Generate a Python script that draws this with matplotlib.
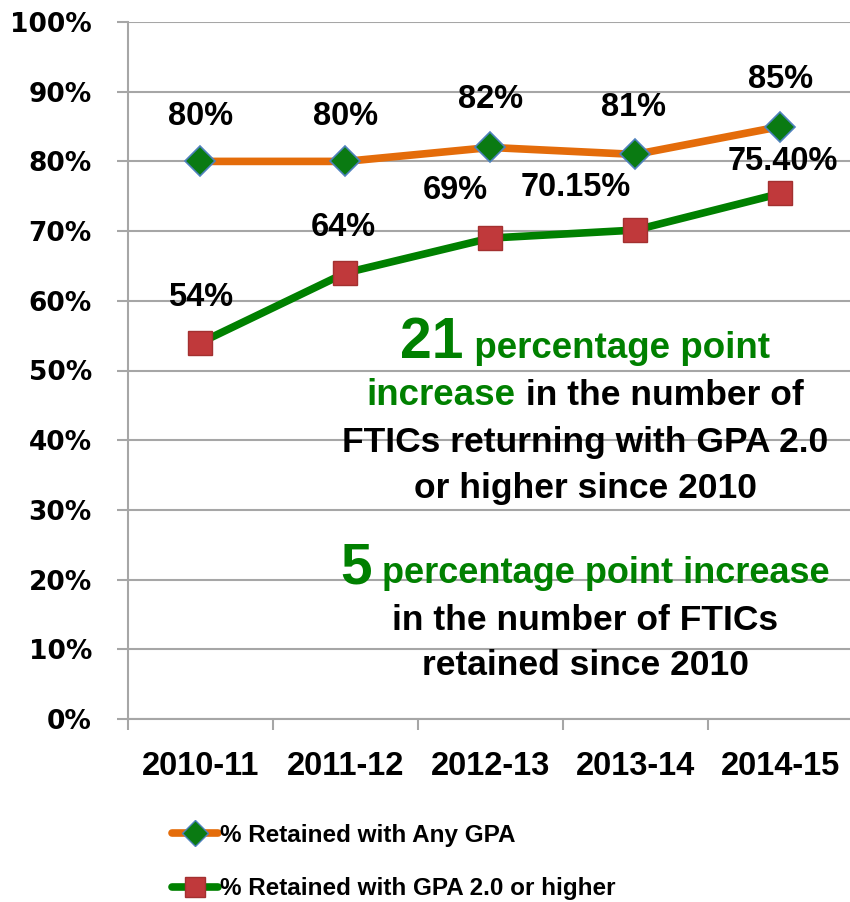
import matplotlib
matplotlib.use("Agg")
import matplotlib.pyplot as plt
from matplotlib.lines import Line2D

# ── Données ────────────────────────────────────────────────
annees = ["2010-11", "2011-12", "2012-13", "2013-14", "2014-15"]
retenus_any_gpa = [80, 80, 82, 81, 85]
retenus_gpa_2 = [54, 64, 69, 70.15, 75.40]
labels_any_gpa = ["80%", "80%", "82%", "81%", "85%"]
labels_gpa_2 = ["54%", "64%", "69%", "70.15%", "75.40%"]
serie_noms = ["% Retained with Any GPA", "% Retained with GPA 2.0 or higher"]

# décalages des étiquettes (pixels)
off_any = [(0, 45), (0, 45), (0, 48), (-2, 47), (0, 47)]
off_gpa = [(0, 45), (-2, 45), (-35, 48), (-60, 43), (2, 32)]

ORANGE = "#E46C0A"
VERT = "#008000"
ROUGE = "#C0393B"
BLEU = "#4F81BD"
GRIS = "#A6A6A6"

fig = plt.figure(figsize=(8.5, 9.02), dpi=100)
ax = fig.add_axes([128 / 850, 1 - 719 / 902, 1 - 128 / 850, (719 - 22) / 902])

x = list(range(len(annees)))
ax.plot(x, retenus_any_gpa, color=ORANGE, lw=5.5, marker="D", ms=15,
        mfc="#0A7A12", mec=BLEU, mew=1.2, zorder=3, solid_capstyle="round")
ax.plot(x, retenus_gpa_2, color=VERT, lw=5.5, marker="s", ms=17,
        mfc=ROUGE, mec="#A33030", mew=1, zorder=3, solid_capstyle="round")

lab_font = dict(family="Liberation Sans", fontweight="bold", fontsize=23.5,
                ha="center", va="center", color="black")
for i in x:
    ax.annotate(labels_any_gpa[i], (i, retenus_any_gpa[i]), xytext=off_any[i],
                textcoords="offset pixels", **lab_font)
    ax.annotate(labels_gpa_2[i], (i, retenus_gpa_2[i]), xytext=off_gpa[i],
                textcoords="offset pixels", **lab_font)

ax.set_xlim(-0.5, 4.48)
ax.set_ylim(0, 100)
ax.set_yticks(range(0, 101, 10))
ax.set_yticklabels([f"{v}%" for v in range(0, 101, 10)],
                   fontsize=19, fontweight="bold", family="DejaVu Sans")
ax.set_xticks(x)
ax.set_xticklabels(annees, fontsize=23.5, fontweight="bold", family="Liberation Sans")
ax.set_xticks([-0.5, 0.5, 1.5, 2.5, 3.5], minor=True)
ax.tick_params(axis="x", which="major", length=0, pad=23)
ax.tick_params(axis="x", which="minor", length=8, color=GRIS, width=1.5)
ax.tick_params(axis="y", length=8, color=GRIS, width=1.5, pad=18)
ax.grid(axis="y", color=GRIS, lw=1.5)
ax.set_axisbelow(True)
for s in ["top", "right"]:
    ax.spines[s].set_visible(False)
ax.spines["left"].set_color(GRIS)
ax.spines["left"].set_linewidth(1.5)
ax.spines["bottom"].set_color(GRIS)
ax.spines["bottom"].set_linewidth(1.5)

# ── Texte explicatif (morceaux multicolores) ────────────────
renderer = fig.canvas.get_renderer()


def ligne(morceaux, cx, cy):
    """morceaux : liste de (texte, couleur, taille). Centre la ligne en (cx, cy) pixels."""
    objs = []
    for txt, col, taille in morceaux:
        t = fig.text(0, 0, txt, color=col, fontsize=taille, fontweight="bold",
                     family="Liberation Sans", va="baseline", ha="left")
        objs.append(t)
    largeurs = [t.get_window_extent(renderer).width for t in objs]
    total = sum(largeurs)
    xpos = cx - total / 2
    for t, w in zip(objs, largeurs):
        t.set_position((xpos / 850, 1 - cy / 902))
        xpos += w


ligne([("21", VERT, 41), (" percentage point", VERT, 26.5)], 585, 358)
ligne([("increase", VERT, 26.5), (" in the number of", "black", 25.5)], 585, 405)
ligne([("FTICs returning with GPA 2.0", "black", 25.5)], 585, 452)
ligne([("or higher since 2010", "black", 25.5)], 585, 498)
ligne([("5", VERT, 41), (" percentage point increase", VERT, 26)], 585, 583)
ligne([("in the number of FTICs", "black", 25.5)], 585, 630)
ligne([("retained since 2010", "black", 25.5)], 585, 675)

# ── Légende ────────────────────────────────────────────────
poignees = [
    Line2D([], [], color=ORANGE, lw=5.5, marker="D", ms=13, mfc="#0A7A12", mec=BLEU,
           solid_capstyle="round"),
    Line2D([], [], color=VERT, lw=5.5, marker="s", ms=15, mfc=ROUGE, mec="#A33030",
           solid_capstyle="round"),
]
fig.legend(poignees, serie_noms, loc="upper left", bbox_to_anchor=(150 / 850, 1 - 802 / 902),
           frameon=False, handlelength=1.9, handletextpad=0.1, labelspacing=1.25,
           prop=dict(family="Liberation Sans", weight="bold", size=17.5))

fig.savefig("out.png", dpi=100)
